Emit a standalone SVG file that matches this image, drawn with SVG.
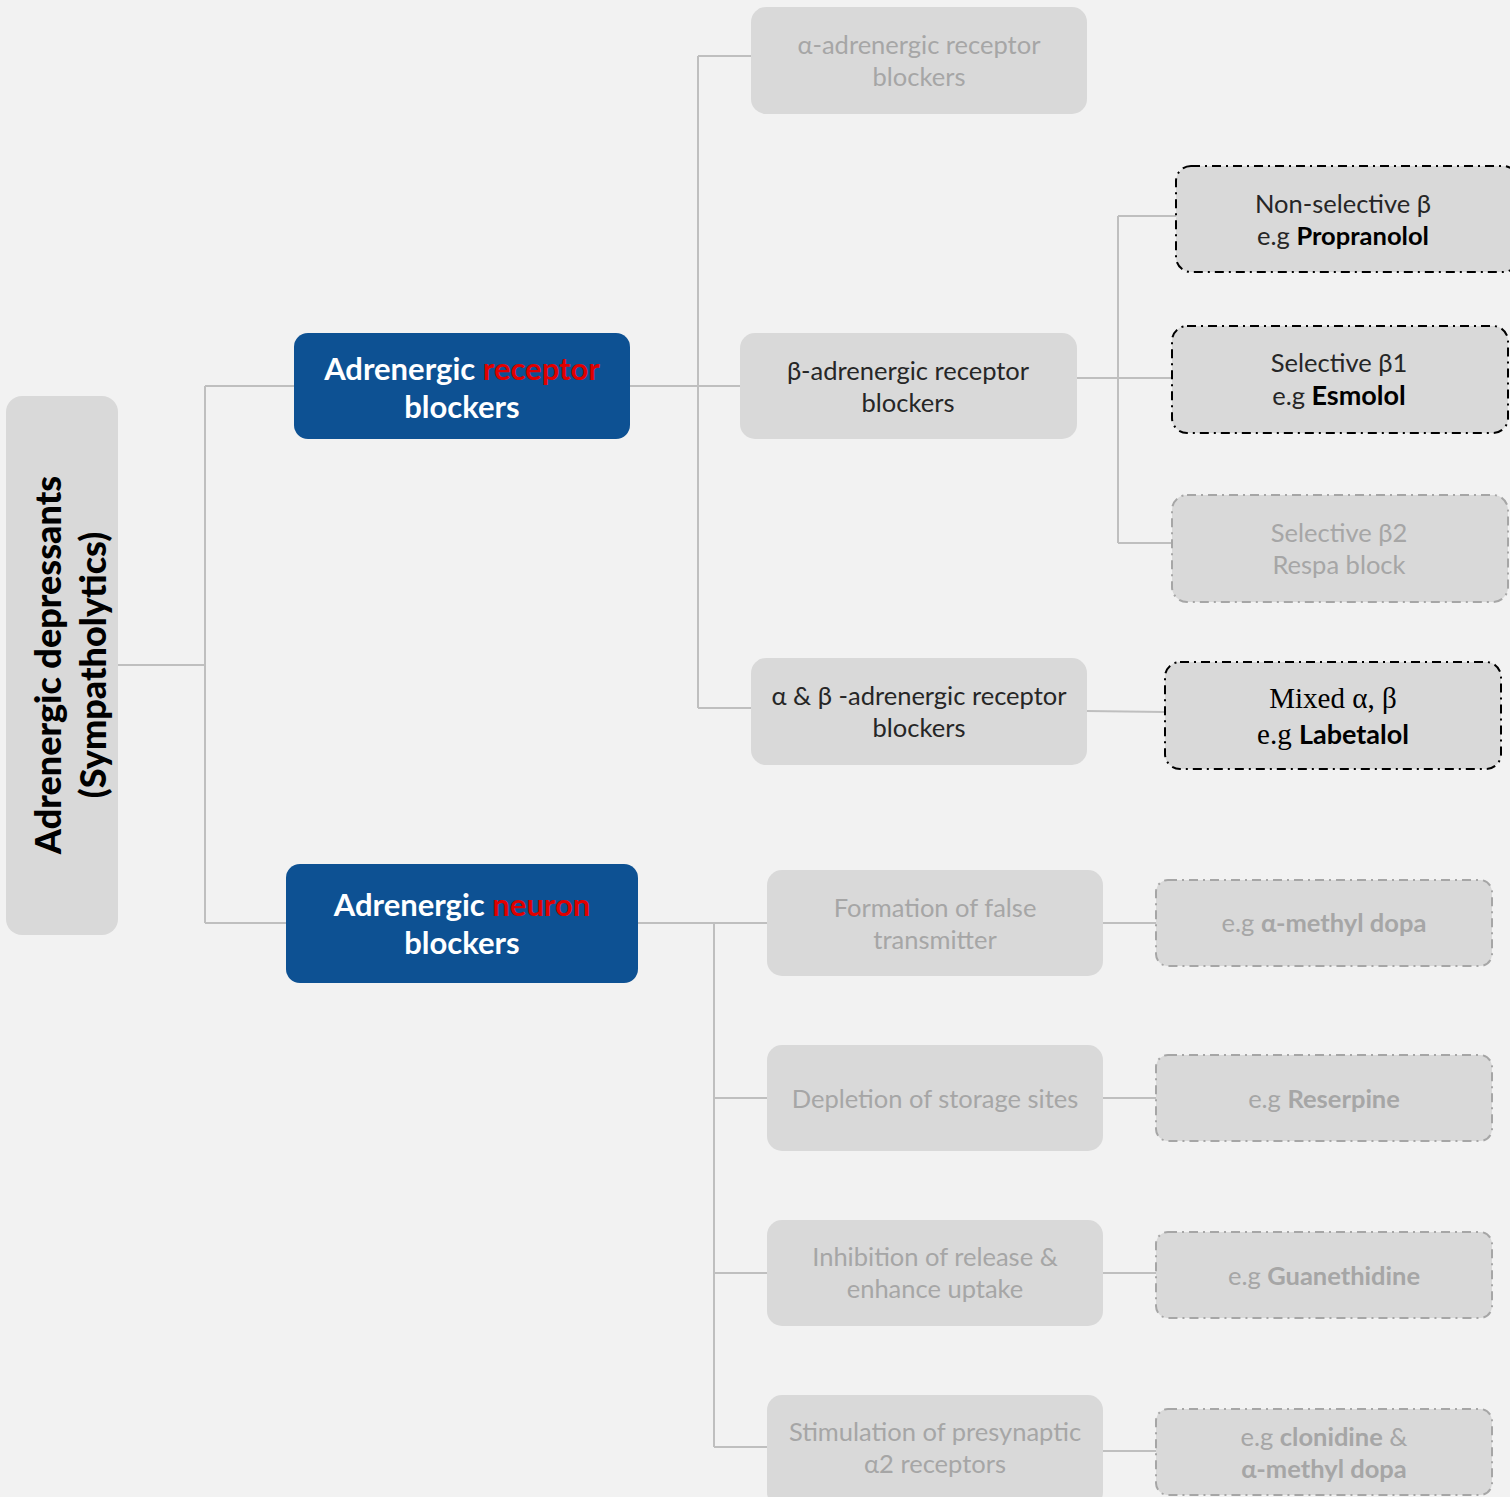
<svg xmlns="http://www.w3.org/2000/svg" width="1510" height="1497" viewBox="0 0 1510 1497">
<style>
text{font-family:Lato,"Noto Sans",sans-serif;text-anchor:middle}
.box{fill:#d9d9d9}
.blue{fill:#0d5193}
.dk{stroke:#000;stroke-width:2;stroke-dasharray:9 5 2 5;fill:#d9d9d9}
.lt{stroke:#a6a6a6;stroke-width:2;stroke-dasharray:9 5 2 5;fill:#d9d9d9}
.t{font-size:25.5px;fill:#262626}
.g{font-size:25.5px;fill:#a6a6a6}
.w{font-size:31px;font-weight:bold;fill:#fff}
.r{fill:#e00000}
.b{font-weight:bold}
.c{fill:none;stroke:#bfbfbf;stroke-width:2}
</style>
<rect width="1510" height="1497" fill="#f2f2f2"/>
<g id="connectors">
<path class="c" d="M118 665H205M205 386V923M205 386H294M205 923H286"/>
<path class="c" d="M630 386H740M698 56V708M698 56H751M698 708H751"/>
<path class="c" d="M1077 378H1172M1118 216V543M1118 216H1176M1118 543H1172"/>
<path class="c" d="M1087 711L1165 712"/>
<path class="c" d="M638 923H767M714 923V1447M714 1098H767M714 1273H767M714 1447H767"/>
<path class="c" d="M1103 923H1156M1103 1098H1156M1103 1273H1156M1103 1451H1156"/>
</g>
<g id="root">
<rect class="box" x="6" y="396" width="112" height="539" rx="16"/>
<text transform="translate(62 665) rotate(-90)" font-size="36" font-weight="900" fill="#000"><tspan x="0" y="-1">Adrenergic depressants</tspan><tspan x="0" y="44">(Sympatholytics)</tspan></text>
</g>
<g id="receptor-blockers">
<rect class="blue" x="294" y="333" width="336" height="106" rx="14"/>
<text class="w"><tspan x="462" y="380">Adrenergic <tspan class="r">receptor</tspan></tspan><tspan x="462" y="418">blockers</tspan></text>
</g>
<g id="neuron-blockers">
<rect class="blue" x="286" y="864" width="352" height="119" rx="14"/>
<text class="w"><tspan x="462" y="916">Adrenergic <tspan class="r">neuron</tspan></tspan><tspan x="462" y="954">blockers</tspan></text>
</g>
<g id="alpha">
<rect class="box" x="751" y="7" width="336" height="107" rx="15"/>
<text class="g"><tspan x="919" y="54">α-adrenergic receptor</tspan><tspan x="919" y="86">blockers</tspan></text>
</g>
<g id="beta">
<rect class="box" x="740" y="333" width="337" height="106" rx="15"/>
<text class="t"><tspan x="908" y="380">β-adrenergic receptor</tspan><tspan x="908" y="412">blockers</tspan></text>
</g>
<g id="alphabeta">
<rect class="box" x="751" y="658" width="336" height="107" rx="15"/>
<text class="t"><tspan x="919" y="705">α &amp; β -adrenergic receptor</tspan><tspan x="919" y="737">blockers</tspan></text>
</g>
<g id="nonselective">
<rect class="dk" x="1176" y="166" width="342" height="106" rx="15"/>
<text class="t"><tspan x="1343" y="213">Non-selective β</tspan><tspan x="1343" y="245">e.g <tspan class="b" fill="#000">Propranolol</tspan></tspan></text>
</g>
<g id="selective-b1">
<rect class="dk" x="1172" y="326" width="336" height="107" rx="15"/>
<text class="t"><tspan x="1339" y="372">Selective β1</tspan><tspan x="1339" y="405">e.g <tspan class="b" fill="#000" font-size="27">Esmolol</tspan></tspan></text>
</g>
<g id="selective-b2">
<rect class="lt" x="1172" y="495" width="336" height="107" rx="15"/>
<text class="g"><tspan x="1339" y="542">Selective β2</tspan><tspan x="1339" y="574">Respa block</tspan></text>
</g>
<g id="mixed">
<rect class="dk" x="1165" y="662" width="336" height="107" rx="15"/>
<text fill="#000"><tspan x="1333" y="708" font-family="'Liberation Serif',serif" font-size="29">Mixed α, β</tspan><tspan x="1333" y="744"><tspan font-family="'Liberation Serif',serif" font-size="29">e.g </tspan><tspan class="b" font-size="27">Labetalol</tspan></tspan></text>
</g>
<g id="false-transmitter">
<rect class="box" x="767" y="870" width="336" height="106" rx="15"/>
<text class="g"><tspan x="935" y="917">Formation of false</tspan><tspan x="935" y="949">transmitter</tspan></text>
</g>
<g id="depletion">
<rect class="box" x="767" y="1045" width="336" height="106" rx="15"/>
<text class="g"><tspan x="935" y="1108">Depletion of storage sites</tspan></text>
</g>
<g id="inhibition">
<rect class="box" x="767" y="1220" width="336" height="106" rx="15"/>
<text class="g"><tspan x="935" y="1266">Inhibition of release &amp;</tspan><tspan x="935" y="1298">enhance uptake</tspan></text>
</g>
<g id="stimulation">
<rect class="box" x="767" y="1395" width="336" height="112" rx="15"/>
<text class="g"><tspan x="935" y="1441">Stimulation of presynaptic</tspan><tspan x="935" y="1473">α2 receptors</tspan></text>
</g>
<g id="methyldopa">
<rect class="lt" x="1156" y="880" width="336" height="86" rx="12"/>
<text class="g"><tspan x="1324" y="932">e.g <tspan class="b">α-methyl dopa</tspan></tspan></text>
</g>
<g id="reserpine">
<rect class="lt" x="1156" y="1055" width="336" height="86" rx="12"/>
<text class="g"><tspan x="1324" y="1108">e.g <tspan class="b">Reserpine</tspan></tspan></text>
</g>
<g id="guanethidine">
<rect class="lt" x="1156" y="1232" width="336" height="86" rx="12"/>
<text class="g"><tspan x="1324" y="1285">e.g <tspan class="b">Guanethidine</tspan></tspan></text>
</g>
<g id="clonidine">
<rect class="lt" x="1156" y="1409" width="336" height="86" rx="12"/>
<text class="g"><tspan x="1324" y="1446">e.g <tspan class="b">clonidine</tspan> &amp;</tspan><tspan x="1324" y="1478" class="b">α-methyl dopa</tspan></text>
</g>
</svg>
